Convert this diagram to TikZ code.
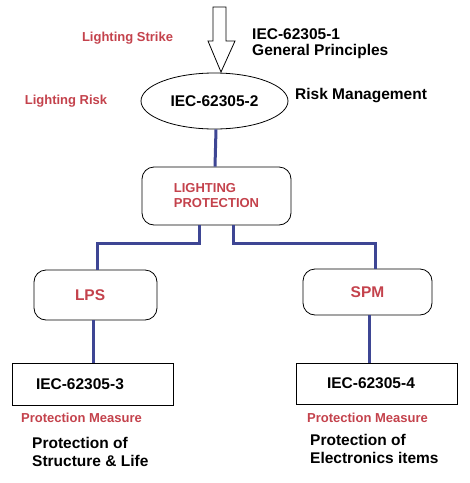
\documentclass[tikz,border=0pt]{standalone}
\usepackage{fontspec}
\setmainfont{Liberation Sans}
\usetikzlibrary{shapes.geometric,positioning}
\definecolor{lblred}{RGB}{196,66,76}
\definecolor{connblue}{RGB}{62,70,148}

\begin{document}
\begin{tikzpicture}[x=1pt,y=-1pt,
  conn/.style={draw=connblue, line width=3pt},
  redlbl/.style={text=lblred, font=\fontsize{13}{15}\selectfont\bfseries, inner sep=0pt},
  blklbl/.style={font=\fontsize{15.5}{16}\selectfont\bfseries, inner sep=0pt, align=left},
  rbox/.style={draw, line width=0.8pt, rounded corners=12pt, inner sep=0pt},
  sbox/.style={draw, line width=0.8pt, inner sep=0pt}]
\useasboundingbox[fill=white] (0,0) rectangle (470,483);
% Top block arrow (lighting strike)
\draw[line width=0.8pt, fill=white] (213,7) -- (213,41) -- (208,41) -- (221,72)
  -- (235,41) -- (226,41) -- (226,7) -- cycle;
\node[redlbl] (strike) at (127.5,38) {Lighting Strike};
\node[blklbl, anchor=west] (gen) at (252,44) {IEC-62305-1\\General Principles};
% Risk assessment
\node[ellipse, draw, line width=0.8pt, minimum width=147pt, minimum height=56pt, inner sep=0pt,
  font=\fontsize{15.5}{17}\selectfont\bfseries] (risk) at (214.5,101) {IEC-62305-2};
\node[redlbl] (risklbl) at (66,101) {Lighting Risk};
\node[blklbl, anchor=west] (riskmgmt) at (295,96) {Risk Management};
% Lighting protection
\node[rbox, minimum width=149pt, minimum height=58pt, text=lblred, align=left,
  font=\fontsize{13}{15}\selectfont\bfseries] (lp) at (216.5,196) {LIGHTING\\PROTECTION};
\node[rbox, minimum height=50pt, inner xsep=41pt, text width=41pt, align=left, text=lblred,
  font=\fontsize{15.5}{17}\selectfont\bfseries] (lps) at (95.5,295) {LPS};
\node[rbox, minimum width=129pt, minimum height=46pt, text=lblred,
  font=\fontsize{15.5}{17}\selectfont\bfseries] (spm) at (367.5,292) {SPM};
% Standards parts 3 and 4
\node[sbox, minimum height=42pt, inner xsep=24pt, text width=113pt, align=left,
  font=\fontsize{15.5}{17}\selectfont\bfseries] (iecthree) at (92.5,384) {IEC-62305-3};
\node[sbox, minimum height=41pt, inner xsep=31pt, text width=99pt, align=left,
  font=\fontsize{15.5}{17}\selectfont\bfseries] (iecfour) at (376.5,383.5) {IEC-62305-4};
\node[redlbl, anchor=west] (pmleft) at (21,418) {Protection Measure};
\node[redlbl, anchor=west] (pmright) at (307,418) {Protection Measure};
\node[blklbl, font=\fontsize{15.5}{18}\selectfont\bfseries, anchor=west] (struct) at (32,452)
  {Protection of\\Structure \& Life};
\node[blklbl, font=\fontsize{15.5}{18}\selectfont\bfseries, anchor=west] (elec) at (310,449)
  {Protection of\\Electronics items};
% Connectors
\draw[conn] ([xshift=1.5pt]risk.south) -- ([xshift=-1.5pt]lp.north);
\draw[conn] ([xshift=-17.5pt]lp.south) -- ++(0,18) -| ([xshift=2pt]lps.north);
\draw[conn] ([xshift=16.5pt]lp.south) -- ++(0,18) -| ([xshift=7.5pt]spm.north);
\draw[conn] ([xshift=-2.5pt]lps.south) -- ([xshift=-2.5pt]lps.south |- iecthree.north);
\draw[conn] ([xshift=1.5pt]spm.south) -- ([xshift=1.5pt]spm.south |- iecfour.north);
\end{tikzpicture}
\end{document}
